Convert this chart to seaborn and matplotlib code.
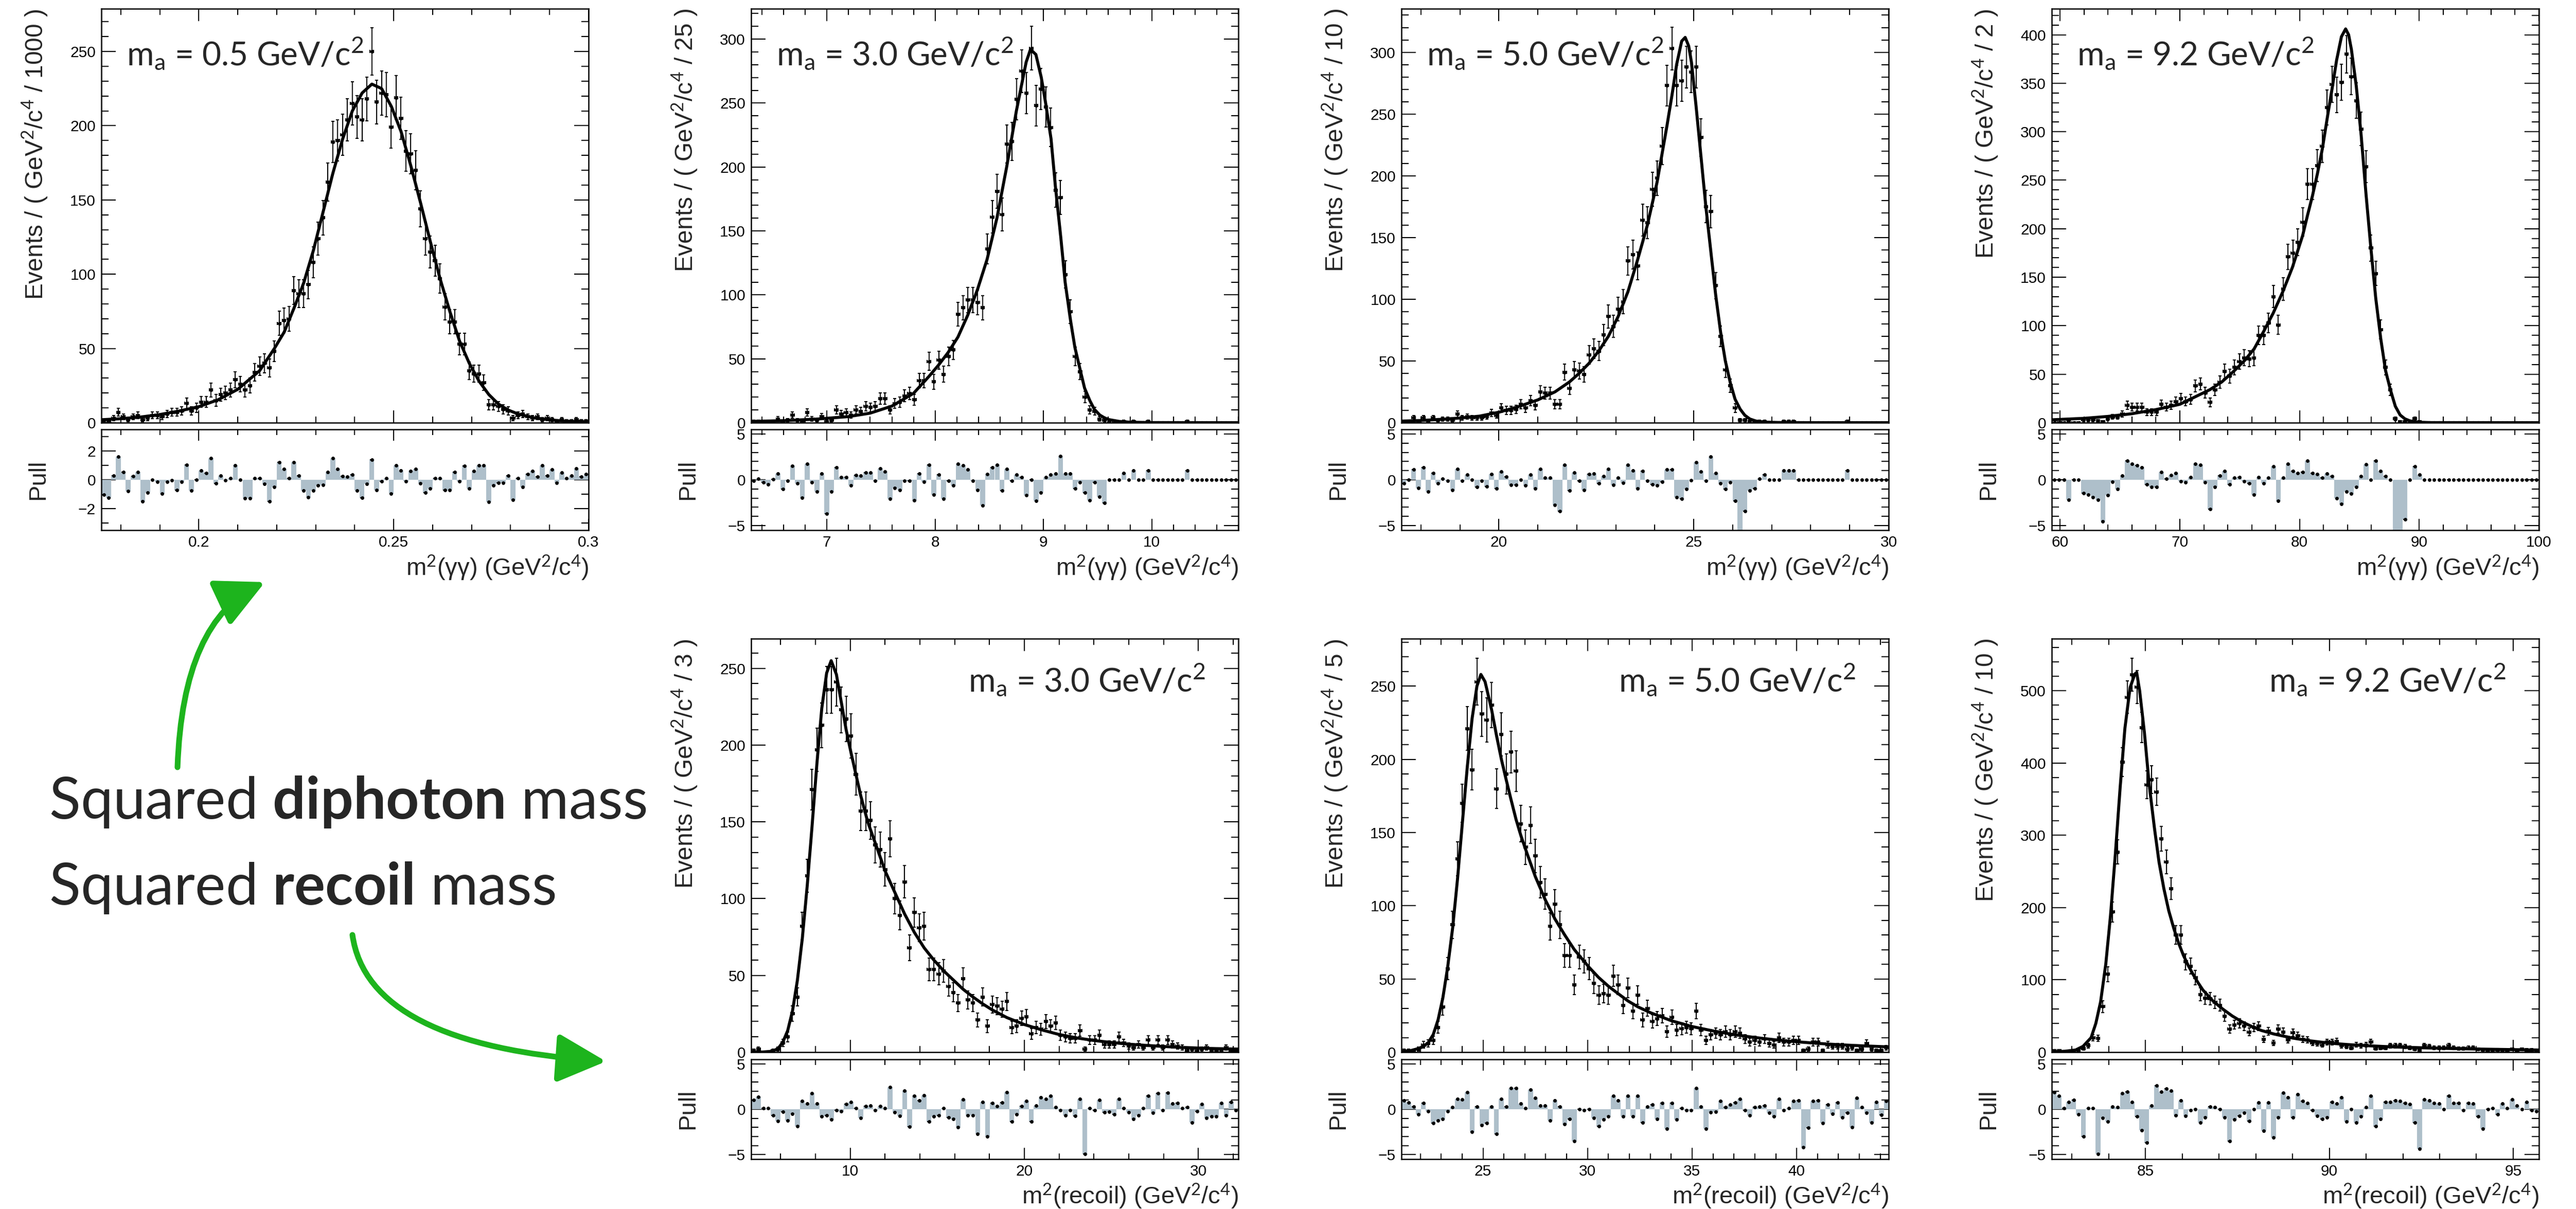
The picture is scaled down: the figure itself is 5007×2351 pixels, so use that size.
import numpy as np
import pandas as pd
import seaborn as sns
import matplotlib.pyplot as plt
from matplotlib.ticker import MultipleLocator, FormatStrFormatter
from matplotlib.patches import FancyArrowPatch

# ------------------------------------------------------------------
# values: 100 equal bins per fit range,
# event counts, pulls, and points along the fitted curve
# ------------------------------------------------------------------

# m^2(gamma gamma), m_a = 0.5
gg05_range = (0.175, 0.30)
gg05_counts = [1, 1, 3, 7, 4, 2, 4, 5, 2, 3,
               5, 5, 4, 6, 7, 7, 8, 13, 8, 10,
               14, 14, 22, 15, 19, 20, 22, 29, 26, 22,
               25, 34, 38, 40, 37, 48, 67, 69, 70, 89,
               87, 87, 93, 108, 124, 138, 162, 189, 190, 194,
               204, 215, 206, 204, 218, 250, 216, 222, 221, 199,
               219, 205, 183, 181, 170, 144, 124, 115, 109, 97,
               78, 68, 68, 53, 53, 35, 33, 33, 27, 12,
               12, 11, 9, 8, 3, 5, 6, 4, 3, 4,
               2, 3, 2, 1, 2, 1, 1, 2, 1, 1]
gg05_pulls = [-1.05, -1.25, 0.3, 1.6, 0.55, -0.8, 0.25, 0.55, -1.5, -0.9,
              0.0, -0.15, -0.95, -0.15, -0.05, -0.7, -0.15, 1.05, -0.75, 0.0,
              0.65, 0.45, 1.5, -0.25, 0.3, -0.05, 0.1, 1.0, 0.0, -1.3,
              -1.3, 0.1, 0.1, -0.3, -1.5, -0.5, 1.2, 0.75, 0.1, 1.2,
              0.3, -0.75, -1.2, -0.75, -0.4, -0.35, 0.55, 1.5, 0.75, 0.25,
              0.2, 0.35, -0.75, -1.25, -0.3, 1.4, -0.7, -0.1, 0.1, -0.95,
              1.0, 0.65, -0.1, 0.6, 0.75, -0.25, -0.9, -0.6, 0.1, 0.1,
              -0.7, -0.7, 0.55, -0.1, 0.95, -0.6, 0.6, 1.0, 1.0, -1.55,
              -0.4, -0.2, -0.2, 0.3, -1.4, 0.1, -0.5, 0.4, 0.6, 0.2,
              1.0, 0.3, 0.7, -0.2, 0.5, 0.1, 0.3, 0.8, 0.2, 0.4]
gg05_fit_x = [0.175, 0.18, 0.185, 0.19, 0.195, 0.2, 0.205, 0.21, 0.2156, 0.2194,
              0.2219, 0.2244, 0.2269, 0.2294, 0.2319, 0.2344, 0.2369, 0.2394, 0.2419, 0.2444,
              0.2469, 0.2494, 0.2519, 0.2544, 0.2569, 0.2594, 0.2619, 0.2644, 0.2669, 0.2694,
              0.2719, 0.2744, 0.2769, 0.2794, 0.282, 0.286, 0.29, 0.295, 0.30]
gg05_fit_y = [2.0, 2.7, 3.8, 5.5, 7.9, 10.8, 15.5, 22.5, 35, 50,
              61, 77, 94, 116, 142, 168, 191, 210, 222, 228,
              225, 213, 196, 173, 148, 122, 97, 75, 55, 40,
              28, 19, 12.5, 8.5, 5.8, 3.3, 1.9, 0.9, 0.45]

# m^2(gamma gamma), m_a = 3.0
gg30_range = (6.3, 10.8)
gg30_counts = [1, 1, 1, 1, 1, 3, 1, 2, 6, 2,
               1, 8, 3, 2, 5, 1, 2, 10, 7, 8,
               6, 10, 9, 13, 12, 13, 19, 19, 10, 15,
               16, 21, 23, 18, 33, 33, 48, 32, 49, 38,
               52, 57, 85, 90, 96, 96, 94, 90, 136, 161,
               181, 163, 218, 220, 253, 275, 258, 293, 248, 261,
               247, 231, 182, 176, 116, 87, 52, 40, 20, 10,
               9, 3, 2, 0, 0, 0, 1, 0, 1, 0,
               0, 1, 0, 0, 0, 0, 0, 0, 0, 1,
               0, 0, 0, 0, 0, 0, 0, 0, 0, 0]
gg30_pulls = [-0.1, 0.1, -0.3, -0.5, 0.05, 0.7, -1.0, -0.1, 1.5, -0.4,
              -1.95, 1.75, -0.3, -1.3, 0.7, -3.7, -1.3, 1.35, 0.3, 0.3,
              -0.6, 0.5, 0.45, 0.8, 0.8, -0.1, 1.25, 0.9, -2.1, -0.9,
              -1.1, -0.1, -0.1, -2.25, 0.7, -0.2, 1.6, -1.65, 0.55, -2.05,
              -0.1, -0.6, 1.75, 1.55, 1.15, -0.1, -1.1, -2.8, 0.6, 1.35,
              1.6, -1.2, 1.2, -0.1, 0.55, 0.3, -1.7, 0.0, -2.3, -1.4,
              0.3, 0.55, 0.7, 2.6, 0.7, 0.7, -0.95, -0.3, -1.4, -2.25,
              -0.3, -1.85, -2.5, 0.0, 0.0, 0.0, 0.75, 0.0, 1.0, 0.0,
              0.0, 1.0, 0.0, 0.0, 0.0, 0.0, 0.0, 0.0, 0.0, 1.0,
              0.0, 0.0, 0.0, 0.0, 0.0, 0.0, 0.0, 0.0, 0.0, 0.0]
gg30_fit_x = [6.3, 6.6, 6.9, 7.2, 7.4, 7.6, 7.8, 7.94, 8.03, 8.12,
              8.21, 8.30, 8.39, 8.48, 8.57, 8.66, 8.75, 8.84, 8.88, 8.93,
              8.98, 9.02, 9.07, 9.11, 9.16, 9.2, 9.25, 9.29, 9.34, 9.38,
              9.43, 9.47, 9.52, 9.56, 9.6, 9.7, 9.8, 10.0, 10.8]
gg30_fit_y = [1.0, 1.6, 2.8, 4.8, 7.5, 13, 23, 36, 45, 55,
              67, 84, 104, 128, 160, 200, 244, 282, 292, 288,
              270, 250, 222, 185, 145, 110, 80, 59, 41, 27,
              17, 10.5, 6, 4, 2.5, 1.0, 0.4, 0.1, 0.0]

# m^2(gamma gamma), m_a = 5.0
gg50_range = (17.5, 30.0)
gg50_counts = [1, 0, 4, 1, 4, 1, 4, 2, 3, 3,
               2, 7, 4, 5, 4, 4, 4, 5, 8, 6,
               12, 10, 10, 11, 15, 12, 18, 14, 25, 24,
               24, 15, 15, 41, 28, 43, 42, 39, 55, 60,
               58, 71, 86, 78, 92, 98, 131, 136, 127, 164,
               162, 189, 198, 224, 273, 303, 273, 277, 288, 284,
               288, 231, 175, 171, 111, 70, 43, 30, 12, 2,
               2, 1, 1, 1, 1, 0, 0, 0, 1, 1,
               1, 0, 0, 0, 0, 0, 0, 0, 0, 0,
               0, 1, 0, 0, 0, 0, 0, 0, 0, 0]
gg50_pulls = [-0.4, 0.0, 1.1, -0.9, 1.35, -1.3, 0.75, -0.4, 0.1, -0.1,
              -1.1, 1.2, -0.1, 0.55, 0.0, -0.8, -0.1, -0.75, 0.6, -0.95,
              0.9, 0.35, -0.55, -0.55, 0.0, -0.6, 0.55, -0.95, 1.2, 0.2,
              0.2, -2.75, -3.4, 1.6, -1.2, 0.8, -0.1, -1.1, 0.6, 0.7,
              -0.4, 0.4, 1.2, -0.55, 0.25, -0.35, 1.65, 1.0, -0.95, 0.95,
              -0.1, -0.5, -0.6, -0.25, 1.15, 1.15, -1.9, -2.1, -1.0, -0.05,
              1.9, 0.9, -0.1, 2.5, 0.75, -0.4, -1.0, -0.3, -2.3, -6.0,
              -3.4, -1.2, -0.95, 0.1, 0.55, 0.0, 0.0, 0.0, 1.0, 1.0,
              1.0, 0.0, 0.0, 0.0, 0.0, 0.0, 0.0, 0.0, 0.0, 0.0,
              0.0, 1.0, 0.0, 0.0, 0.0, 0.0, 0.0, 0.0, 0.0, 0.0]
gg50_fit_x = [17.5, 18.0, 18.5, 19.0, 19.5, 20.0, 20.5, 21.0, 21.44, 21.81,
              22.06, 22.31, 22.56, 22.81, 23.06, 23.31, 23.56, 23.81, 24.06, 24.31,
              24.44, 24.56, 24.69, 24.78, 24.87, 24.94, 25.06, 25.19, 25.31, 25.44,
              25.56, 25.69, 25.81, 25.94, 26.06, 26.19, 26.31, 26.44, 26.6, 26.8,
              27.2, 28.0, 30.0]
gg50_fit_y = [1.3, 1.8, 2.7, 3.8, 5.3, 8.5, 13, 18.5, 25, 33,
              40, 48, 58, 70, 86, 106, 132, 160, 195, 240,
              265, 290, 309, 312, 305, 292, 256, 214, 175, 138,
              104, 73, 50, 32, 19, 11, 6, 3, 1.3, 0.5,
              0.15, 0.02, 0.0]

# m^2(gamma gamma), m_a = 9.2
gg92_range = (59.3, 100.0)
gg92_counts = [0, 0, 0, 1, 0, 0, 3, 3, 3, 2,
               1, 4, 6, 6, 9, 18, 16, 16, 16, 11,
               11, 11, 19, 16, 18, 22, 25, 22, 24, 38,
               40, 31, 21, 34, 42, 53, 48, 57, 63, 67,
               66, 67, 90, 90, 103, 130, 101, 138, 171, 175,
               186, 207, 246, 246, 265, 285, 325, 349, 338, 351,
               380, 357, 332, 303, 264, 180, 154, 96, 57, 34,
               4, 1, 1, 0, 4, 1, 0, 0, 0, 0,
               0, 0, 0, 0, 0, 0, 0, 0, 0, 0,
               0, 0, 0, 0, 0, 0, 0, 0, 0, 0]
gg92_pulls = [0.0, 0.0, 0.0, -2.2, 0.0, 0.0, -1.45, -1.6, -1.9, -2.2,
              -4.55, -1.7, -0.2, -1.0, 0.45, 2.1, 1.75, 1.55, 1.35, -0.5,
              -0.8, -0.8, 0.85, 0.1, 0.5, 0.75, -0.15, -0.3, 0.3, 1.75,
              1.6, -0.3, -3.2, -0.8, 0.45, 0.95, -0.5, 0.2, 0.3, -0.15,
              -0.4, -1.6, 0.3, -0.4, 0.25, 1.45, -2.3, 0.2, 1.75, 0.95,
              0.75, 0.85, 2.05, 0.75, 0.6, 0.25, 0.65, 0.4, -2.0, -2.65,
              -1.3, -1.5, -0.8, 0.4, 1.7, 0.0, 2.1, 0.95, 0.4, 0.0,
              -6.0, -6.0, -4.3, 0.0, 1.45, 0.55, 0.0, 0.0, 0.0, 0.0,
              0.0, 0.0, 0.0, 0.0, 0.0, 0.0, 0.0, 0.0, 0.0, 0.0,
              0.0, 0.0, 0.0, 0.0, 0.0, 0.0, 0.0, 0.0, 0.0, 0.0]
gg92_fit_x = [59.3, 62, 64, 66, 68, 70, 71.5, 72.5, 73.5, 74.5,
              75.4, 76.2, 77.0, 77.8, 78.6, 79.4, 80.26, 80.67, 81.08, 81.48,
              81.9, 82.3, 82.7, 83.1, 83.5, 83.85, 84.1, 84.33, 84.74, 85.15,
              85.55, 85.96, 86.37, 86.78, 87.18, 87.59, 88.0, 88.4, 88.8, 89.2,
              89.6, 90.0, 91.0, 100.0]
gg92_fit_y = [3.0, 4.5, 6.5, 9.3, 13.5, 19, 28, 34, 42, 53,
              64, 76, 94, 113, 135, 160, 193, 214, 234, 256,
              282, 313, 343, 374, 398, 406, 400, 385, 347, 296,
              236, 180, 128, 87, 54, 34, 17, 8, 4, 2,
              1, 0.5, 0.1, 0.0]

# m^2(recoil), m_a = 3.0
rc30_range = (4.3, 32.3)
rc30_counts = [1, 2, 0, 0, 1, 2, 6, 10, 25, 36,
               82, 115, 171, 197, 213, 236, 236, 241, 223, 217,
               206, 181, 157, 157, 151, 135, 132, 119, 139, 100,
               89, 111, 68, 91, 81, 82, 54, 54, 51, 53,
               43, 39, 32, 48, 34, 32, 21, 36, 17, 31,
               30, 28, 33, 16, 17, 22, 23, 12, 16, 15,
               20, 17, 19, 11, 10, 9, 9, 14, 2, 8,
               8, 11, 5, 5, 5, 10, 6, 4, 3, 5,
               3, 8, 3, 8, 3, 8, 5, 4, 3, 1,
               2, 1, 2, 3, 1, 1, 1, 3, 1, 1]
rc30_pulls = [1.0, 1.35, 0.1, 0.1, -0.7, -1.3, -0.3, -1.25, -0.5, -1.85,
              0.9, 0.6, 1.75, 0.6, -0.8, -0.7, -1.15, -0.1, -0.2, 0.55,
              0.8, 0.1, -0.95, 0.35, 0.4, -0.1, 0.35, 0.1, 2.45, -0.35,
              -0.75, 2.05, -1.95, 1.45, 0.95, 1.55, -1.35, -0.8, -0.7, 0.1,
              -0.9, -1.1, -2.0, 1.1, -0.7, -0.7, -2.7, 0.8, -3.0, 0.7,
              0.35, 0.75, 1.85, -1.35, -0.55, 0.35, 0.9, -1.35, 0.4, 1.3,
              1.15, 1.5, 0.2, -0.1, -0.7, -0.1, -0.75, 1.15, -4.95, 0.1,
              -0.1, 1.0, -0.35, -0.3, -0.55, 1.15, 0.1, -0.35, -1.1, -0.7,
              0.1, 1.45, -0.4, 1.75, -0.1, 1.8, 0.6, 0.7, 0.1, 0.2,
              -1.5, -0.2, 0.55, -0.95, -0.8, -0.8, 0.7, -0.7, 0.8, -0.1]
rc30_fit_x = [4.3, 5.0, 5.5, 5.84, 6.12, 6.4, 6.68, 6.96, 7.24, 7.52,
              7.8, 8.08, 8.36, 8.64, 8.9, 9.2, 9.48, 9.76, 10.04, 10.32,
              10.6, 11.0, 11.44, 12.0, 12.56, 13.12, 13.68, 14.24, 14.8, 15.36,
              15.92, 16.48, 17.04, 17.6, 18.16, 19.0, 20.0, 21.0, 22.0, 23.0,
              24.0, 25.0, 26.0, 27.0, 28.0, 29.0, 30.0, 31.0, 32.3]
rc30_fit_y = [0.0, 0.1, 0.6, 2.2, 6.5, 14, 27, 47, 74, 108,
              147, 188, 224, 247, 255, 246, 228, 210, 195, 181,
              167, 150, 136, 118, 104, 90, 78, 68, 60, 53,
              47, 41, 36, 31.5, 27.5, 22.5, 18, 14.5, 11.5, 9.3,
              7.6, 6.3, 5.2, 4.4, 3.7, 3.1, 2.7, 2.3, 2.0]

# m^2(recoil), m_a = 5.0
rc50_range = (21.1, 44.4)
rc50_counts = [1, 1, 1, 2, 5, 6, 8, 17, 31, 57,
               87, 132, 170, 221, 193, 253, 231, 227, 237, 180,
               217, 190, 205, 192, 156, 140, 155, 134, 116, 108,
               86, 101, 87, 66, 66, 46, 65, 62, 57, 47,
               39, 40, 39, 52, 46, 32, 44, 28, 39, 22,
               30, 21, 23, 25, 14, 24, 15, 16, 17, 16,
               28, 15, 8, 12, 13, 12, 14, 12, 14, 13,
               9, 7, 8, 7, 9, 6, 5, 10, 7, 7,
               8, 8, 1, 2, 7, 7, 1, 5, 4, 4,
               4, 2, 3, 1, 2, 6, 2, 1, 1, 3]
rc50_pulls = [0.95, 0.75, 0.3, -0.55, 0.7, -0.2, -1.55, -1.25, -1.05, -0.2,
              0.2, 1.15, 1.05, 1.85, -2.5, 0.3, -1.75, -1.55, 0.3, -2.7,
              1.15, 0.3, 2.35, 2.35, 0.6, 0.1, 2.15, 1.25, 0.4, 0.4,
              -1.25, 0.95, 0.3, -1.65, -1.05, -3.5, 0.0, -0.1, 0.0, -0.95,
              -1.85, -1.15, -0.8, 1.45, 0.95, -0.8, 1.45, -0.8, 1.45, -1.5,
              0.3, 0.5, -1.1, 0.7, -2.15, 0.7, -1.15, 0.1, -0.1, -0.1,
              2.35, 0.3, -2.15, -0.35, -0.3, 0.9, 0.2, 0.5, 0.75, 1.15,
              -0.1, -0.7, 0.2, 0.3, 0.4, -0.4, -0.8, 1.15, -0.1, 0.1,
              0.9, 0.95, -4.2, -2.05, 0.9, 0.95, -1.55, 0.5, -0.5, 0.75,
              -0.9, -0.4, -2.0, 1.25, 0.2, -0.4, -1.45, 0.8, -0.6, 0.9]
rc50_fit_x = [21.1, 21.5, 21.92, 22.15, 22.38, 22.62, 22.85, 23.08, 23.31, 23.55,
              23.78, 24.01, 24.25, 24.48, 24.71, 24.9, 25.1, 25.41, 25.65, 25.88,
              26.11, 26.35, 26.58, 26.81, 27.05, 27.5, 27.98, 28.44, 28.91, 29.37,
              30.07, 30.53, 31.0, 31.46, 31.93, 32.4, 33.0, 34.0, 35.0, 36.0,
              37.0, 38.0, 39.0, 40.0, 41.0, 42.0, 43.0, 44.4]
rc50_fit_y = [0.3, 0.9, 2.5, 3.8, 6.5, 12, 22, 37, 58, 85,
              118, 156, 195, 228, 250, 258, 253, 234, 216, 200,
              186, 172, 159, 148, 138, 120, 104, 91, 80, 70,
              58, 51, 45, 40, 35, 31, 27, 21.5, 17.5, 14.5,
              12, 10, 8.4, 7.1, 6, 5.1, 4.4, 3.6]

# m^2(recoil), m_a = 9.2
rc92_range = (82.45, 95.7)
rc92_counts = [2, 2, 1, 1, 1, 2, 5, 9, 20, 19,
               63, 108, 194, 277, 401, 491, 522, 505, 449, 370,
               377, 360, 295, 263, 226, 162, 162, 125, 119, 103,
               80, 75, 74, 69, 65, 50, 32, 38, 40, 36,
               28, 34, 36, 18, 29, 13, 32, 28, 17, 27,
               23, 18, 17, 13, 12, 10, 14, 14, 15, 9,
               8, 6, 10, 9, 10, 14, 5, 6, 6, 9,
               9, 9, 8, 6, 4, 2, 9, 8, 6, 6,
               6, 9, 6, 5, 5, 6, 6, 4, 3, 2,
               2, 3, 2, 2, 4, 2, 4, 3, 3, 2]
rc92_pulls = [1.85, 1.45, 0.1, 0.8, 1.0, -0.55, -3.0, 0.1, 0.1, -4.95,
              -0.95, -1.35, 0.3, 0.2, 1.75, 1.95, 0.8, -0.8, -2.35, -3.7,
              0.4, 2.6, 1.95, 2.25, 2.05, -0.7, 0.95, -0.75, -0.1, 0.0,
              -1.45, -0.9, 0.3, 0.2, 0.0, -0.9, -3.5, -1.15, -0.75, -0.4,
              -1.3, 0.0, 0.75, -2.4, 0.75, -3.1, -0.9, 1.8, 1.3, -0.9,
              1.65, 0.9, 0.7, -0.1, -0.75, -1.1, -0.9, 0.8, 0.6, 1.3,
              -1.35, 0.0, -1.45, -0.8, 0.2, 1.45, -1.85, -1.1, 0.8, 0.8,
              0.95, 0.9, 0.7, 0.55, -1.45, -4.35, 1.1, 0.95, 0.7, 0.6,
              0.0, 1.45, 0.7, 0.7, -0.1, 0.7, 0.6, -0.8, -2.15, 0.0,
              0.1, -0.55, 0.6, 0.1, 1.1, 0.4, 0.0, 0.8, -0.1, -0.2]
rc92_fit_x = [82.45, 82.8, 83.1, 83.3, 83.52, 83.65, 83.78, 83.92, 84.05, 84.18,
              84.31, 84.44, 84.58, 84.71, 84.76, 84.84, 84.97, 85.1, 85.24, 85.37,
              85.5, 85.63, 85.77, 85.9, 86.03, 86.16, 86.3, 86.43, 86.56, 86.83,
              87.09, 87.36, 87.62, 87.89, 88.15, 88.5, 89.0, 89.5, 90.0, 90.5,
              91.0, 91.5, 92.0, 93.0, 94.0, 95.0, 95.7]
rc92_fit_y = [0.5, 1.2, 3, 8, 20, 40, 70, 122, 190, 274,
              366, 448, 504, 523, 525, 500, 442, 370, 311, 262,
              226, 196, 171, 151, 134, 120, 107, 96, 86, 71,
              60, 50, 42, 35.5, 30, 25, 19.5, 15.5, 12.5, 10.5,
              9, 7.8, 6.8, 5.4, 4.3, 3.5, 3.0]

mass_labels = ["0.5", "3.0", "5.0", "9.2", "3.0", "5.0", "9.2"]
bin_labels = ["1000", "25", "10", "2", "3", "5", "10"]

# ------------------------------------------------------------------
# style
# ------------------------------------------------------------------
sns.set_style("ticks")
plt.rcParams['font.family'] = ['Liberation Sans', 'DejaVu Sans']
plt.rcParams['mathtext.fontset'] = 'custom'
plt.rcParams['mathtext.rm'] = 'Lato'
plt.rcParams['mathtext.it'] = 'Lato:italic'
plt.rcParams['mathtext.bf'] = 'Lato:bold'
plt.rcParams['axes.linewidth'] = 1.8
plt.rcParams['axes.edgecolor'] = 'black'

PULL_GREY = '#aebfca'
GREEN = '#1db41d'
W, H = 5007, 2351

fig = plt.figure(figsize=(W / 100, H / 100), dpi=100)
fig.patch.set_facecolor('white')

col_left = [197, 1460, 2724, 3988]
col_width = 947
rows = {'top': ((17, 822), (835, 1031)), 'bottom': ((1242, 2046), (2060, 2254))}

xlab_gg = 'm$^{2}$(γγ) (GeV$^{2}$/c$^{4}$)'
xlab_rc = 'm$^{2}$(recoil) (GeV$^{2}$/c$^{4}$)'

panels = [
    dict(col=0, row='top', d=(gg05_range, gg05_counts, gg05_pulls, gg05_fit_x, gg05_fit_y),
         ytop=278.75, ymaj=50, ymin=10, xmaj=0.05, xmin=0.01, plim=3.5, pmaj=2, pmin=1,
         xlab=xlab_gg, lab_x=0.052, lab_ha='left', lab_y=0.891),
    dict(col=1, row='top', d=(gg30_range, gg30_counts, gg30_pulls, gg30_fit_x, gg30_fit_y),
         ytop=323.8, ymaj=50, ymin=10, xmaj=1, xmin=0.2, plim=5.5, pmaj=5, pmin=1,
         xlab=xlab_gg, lab_x=0.052, lab_ha='left', lab_y=0.891),
    dict(col=2, row='top', d=(gg50_range, gg50_counts, gg50_pulls, gg50_fit_x, gg50_fit_y),
         ytop=335.2, ymaj=50, ymin=10, xmaj=5, xmin=1, plim=5.5, pmaj=5, pmin=1,
         xlab=xlab_gg, lab_x=0.052, lab_ha='left', lab_y=0.891),
    dict(col=3, row='top', d=(gg92_range, gg92_counts, gg92_pulls, gg92_fit_x, gg92_fit_y),
         ytop=426.8, ymaj=50, ymin=10, xmaj=10, xmin=2, plim=5.5, pmaj=5, pmin=1,
         xlab=xlab_gg, lab_x=0.052, lab_ha='left', lab_y=0.891),
    dict(col=1, row='bottom', d=(rc30_range, rc30_counts, rc30_pulls, rc30_fit_x, rc30_fit_y),
         ytop=269.3, ymaj=50, ymin=10, xmaj=10, xmin=2, plim=5.5, pmaj=5, pmin=1,
         xlab=xlab_rc, lab_x=0.933, lab_ha='right', lab_y=0.90),
    dict(col=2, row='bottom', d=(rc50_range, rc50_counts, rc50_pulls, rc50_fit_x, rc50_fit_y),
         ytop=282.4, ymaj=50, ymin=10, xmaj=5, xmin=1, plim=5.5, pmaj=5, pmin=1,
         xlab=xlab_rc, lab_x=0.933, lab_ha='right', lab_y=0.90),
    dict(col=3, row='bottom', d=(rc92_range, rc92_counts, rc92_pulls, rc92_fit_x, rc92_fit_y),
         ytop=571.8, ymaj=100, ymin=20, xmaj=5, xmin=1, plim=5.5, pmaj=5, pmin=1,
         xlab=xlab_rc, lab_x=0.933, lab_ha='right', lab_y=0.90),
]


def add_axes_px(x0, x1, y0, y1, **kw):
    return fig.add_axes([x0 / W, 1 - y1 / H, (x1 - x0) / W, (y1 - y0) / H], **kw)


def style_ticks(a, xl_major, xl_minor, yl_major, yl_minor):
    a.tick_params(which='both', direction='in', top=True, right=True,
                  width=1.5, colors='black', labelsize=21.5)
    a.tick_params(axis='x', which='major', length=xl_major, pad=7)
    a.tick_params(axis='x', which='minor', length=xl_minor)
    a.tick_params(axis='y', which='major', length=yl_major, pad=8)
    a.tick_params(axis='y', which='minor', length=yl_minor)
    for s in a.spines.values():
        s.set_linewidth(1.8)


for i, p in enumerate(panels):
    (lo, hi), counts, pulls, fx, fy = p['d']
    counts = np.asarray(counts, float)
    pulls = np.asarray(pulls, float)
    w = (hi - lo) / len(counts)
    centres = lo + w * (np.arange(len(counts)) + 0.5)
    wp = (hi - lo) / len(pulls)
    centres_p = lo + wp * (np.arange(len(pulls)) + 0.5)

    x0 = col_left[p['col']]
    x1 = x0 + col_width
    (my0, my1), (py0, py1) = rows[p['row']]
    ax = add_axes_px(x0, x1, my0, my1)
    axp = add_axes_px(x0, x1, py0, py1, sharex=ax)

    # data points with Poisson errors, then the fitted curve
    ax.errorbar(centres, counts, yerr=np.sqrt(counts), xerr=0.35 * w, fmt='o',
                ms=4.2, color='black', elinewidth=1.5, capsize=2, capthick=1.5, zorder=3)
    fit = pd.DataFrame({'x': fx, 'y': fy})
    sns.lineplot(data=fit, x='x', y='y', ax=ax, color='black', lw=4.2, sort=False, zorder=4)

    ax.set_xlim(lo, hi)
    ax.set_ylim(0, p['ytop'])
    ax.xaxis.set_major_locator(MultipleLocator(p['xmaj']))
    ax.xaxis.set_minor_locator(MultipleLocator(p['xmin']))
    ax.yaxis.set_major_locator(MultipleLocator(p['ymaj']))
    ax.yaxis.set_minor_locator(MultipleLocator(p['ymin']))
    style_ticks(ax, 17, 8.5, 20, 10)
    ax.tick_params(labelbottom=False)
    ax.set_xlabel('')
    ax.set_ylabel('Events / ( GeV$^{2}$/c$^{4}$ / %s )' % bin_labels[i], fontsize=34.5, loc='top')
    ax.yaxis.set_label_coords(-0.107, 1.0)
    ax.text(p['lab_x'], p['lab_y'], 'm$_{\\rm a}$ = %s GeV/c$^{2}$' % mass_labels[i],
            transform=ax.transAxes, ha=p['lab_ha'], va='center', fontsize=46, family='Lato')

    # pull panel
    axp.bar(centres_p, pulls, width=wp, color=PULL_GREY, linewidth=0, zorder=1)
    axp.errorbar(centres_p, pulls, xerr=0.35 * wp, fmt='o', ms=4, color='black',
                 elinewidth=1.5, zorder=3)
    axp.set_ylim(-p['plim'], p['plim'])
    axp.yaxis.set_major_locator(MultipleLocator(p['pmaj']))
    axp.yaxis.set_minor_locator(MultipleLocator(p['pmin']))
    style_ticks(axp, 16, 8, 20, 10)
    axp.xaxis.set_major_formatter(FormatStrFormatter('%g'))
    axp.set_ylabel('Pull', fontsize=34)
    axp.yaxis.set_label_coords(-0.107, 0.5)
    axp.set_xlabel(p['xlab'], fontsize=34, loc='right')
    axp.xaxis.set_label_coords(1.0, -0.23)

# annotation on the left
fig.text(95 / W, 1 - 1592 / H, 'Squared $\\mathbf{diphoton}$ mass',
         fontsize=81, family='Lato', va='baseline', ha='left')
fig.text(95 / W, 1 - 1759 / H, 'Squared $\\mathbf{recoil}$ mass',
         fontsize=81, family='Lato', va='baseline', ha='left')

arrow_kw = dict(transform=fig.transFigure, arrowstyle='-|>,head_length=1.0,head_width=0.5',
                mutation_scale=58, lw=8, color=GREEN, shrinkA=0, shrinkB=0)
fig.add_artist(FancyArrowPatch((345 / W, 1 - 1492 / H), (515 / W, 1 - 1132 / H),
                               connectionstyle='angle3,angleA=88,angleB=25', **arrow_kw))
fig.add_artist(FancyArrowPatch((685 / W, 1 - 1818 / H), (1178 / W, 1 - 2064 / H),
                               connectionstyle='angle3,angleA=-82,angleB=-4', **arrow_kw))

fig.savefig('out.png', dpi=100, facecolor='white')
